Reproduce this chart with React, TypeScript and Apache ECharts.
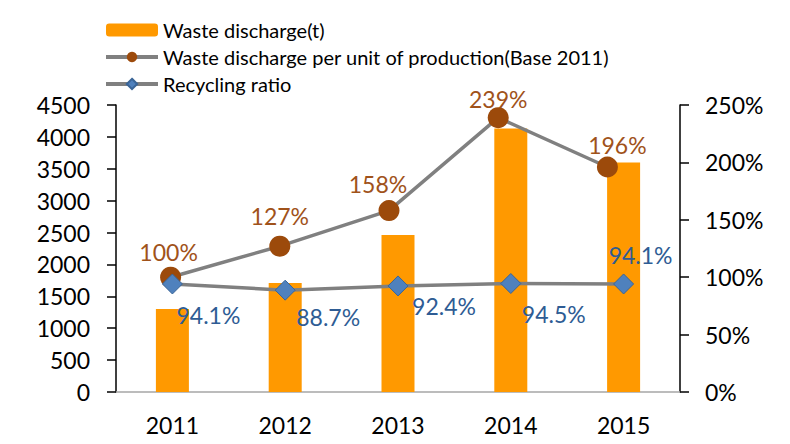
import React, { useEffect, useRef } from "react";
import * as echarts from "echarts";

const years = ["2011", "2012", "2013", "2014", "2015"];
const wasteDischarge = [1300, 1710, 2460, 4130, 3600];
const perUnitPct = [100, 127, 158, 239, 196];
const recyclingPct = [94.1, 88.7, 92.4, 94.5, 94.1];
const leftTicks = { min: 0, max: 4500, interval: 500 };
const rightTicks = { min: 0, max: 250, interval: 50 };

// label offsets (styling)
const perUnitLabelOffsets: [number, number][] = [[-2, -25], [0, -30], [-11, -27], [0, -19], [10, -22]];
const recyclingLabelOffsets: [number, number][] = [[36, 31], [43, 27], [46, 20], [43, 30], [17, -29]];

const FONT = "Lato";

export default function App() {
  const ref = useRef<HTMLDivElement>(null);
  useEffect(() => {
    if (!ref.current) return;
    const chart = echarts.init(ref.current, undefined, { renderer: "svg" });
    const axisLabel = { fontFamily: FONT, fontSize: 23, color: "#000" };
    chart.setOption({
      animation: false,
      textStyle: { fontFamily: FONT },
      legend: {
        orient: "vertical",
        left: 99,
        top: 14,
        itemWidth: 52,
        itemHeight: 13,
        itemGap: 5,
        lineStyle: { width: 4, color: "#808080" },
        textStyle: { fontFamily: FONT, fontSize: 20, color: "#000", lineHeight: 22 },
        data: ["Waste discharge(t)", "Waste discharge per unit of production(Base 2011)", "Recycling ratio"],
      },
      grid: [
        { left: 116, right: 110, top: 105, bottom: 52 },
        { left: 116, right: 128, top: 105, bottom: 52 },
      ],
      xAxis: [
        {
          type: "category",
          gridIndex: 0,
          data: years,
          boundaryGap: true,
          axisLine: { lineStyle: { color: "#A6A6A6", width: 1.5 } },
          axisTick: { show: false },
          axisLabel: { ...axisLabel, margin: 21 },
        },
        {
          type: "category",
          gridIndex: 1,
          data: years,
          boundaryGap: true,
          show: false,
        },
      ],
      yAxis: [
        {
          type: "value",
          gridIndex: 0,
          position: "left",
          ...leftTicks,
          axisLine: { show: true, lineStyle: { color: "#000", width: 1.5 } },
          axisTick: { show: true, inside: false, length: 9, lineStyle: { color: "#000", width: 1.5 } },
          splitLine: { show: false },
          axisLabel: { ...axisLabel, margin: 26, formatter: (v: number) => String(v) },
        },
        {
          type: "value",
          gridIndex: 0,
          position: "right",
          ...rightTicks,
          axisLine: { show: true, lineStyle: { color: "#000", width: 1.5 } },
          axisTick: { show: true, inside: false, length: 9, lineStyle: { color: "#000", width: 1.5 } },
          splitLine: { show: false },
          axisLabel: { ...axisLabel, margin: 25, formatter: "{value}%" },
        },
        {
          type: "value",
          gridIndex: 1,
          ...rightTicks,
          show: false,
          splitLine: { show: false },
        },
      ],
      series: [
        {
          name: "Waste discharge(t)",
          type: "bar",
          xAxisIndex: 0,
          yAxisIndex: 0,
          data: wasteDischarge,
          barWidth: 33,
          itemStyle: { color: "#FF9900" },
          z: 1,
        },
        {
          name: "Waste discharge per unit of production(Base 2011)",
          type: "line",
          xAxisIndex: 1,
          yAxisIndex: 2,
          data: perUnitPct.map((v, i) => ({
            value: v,
            label: { offset: perUnitLabelOffsets[i] },
          })),
          symbol: "circle",
          symbolSize: 21,
          lineStyle: { color: "#808080", width: 3.5 },
          itemStyle: { color: "#9C4A0B" },
          label: {
            show: true,
            position: "inside",
            formatter: (p: any) => p.value + "%",
            fontFamily: FONT,
            fontSize: 23,
            color: "#A0521A",
          },
          z: 3,
        },
        {
          name: "Recycling ratio",
          type: "line",
          xAxisIndex: 0,
          yAxisIndex: 1,
          data: recyclingPct.map((v, i) => ({
            value: v,
            label: { offset: recyclingLabelOffsets[i] },
          })),
          symbol: "diamond",
          symbolSize: [20, 20],
          lineStyle: { color: "#808080", width: 3.5 },
          itemStyle: { color: "#4F81BD", borderColor: "#3A6597", borderWidth: 1 },
          label: {
            show: true,
            position: "inside",
            formatter: (p: any) => Number(p.value).toFixed(1) + "%",
            fontFamily: FONT,
            fontSize: 23,
            color: "#2E5C94",
          },
          z: 4,
        },
      ],
    });
    return () => chart.dispose();
  }, []);
  return (
    <div
      ref={ref}
      style={{ position: "fixed", left: 0, top: 0, width: 790, height: 444, background: "#fff" }}
    />
  );
}
